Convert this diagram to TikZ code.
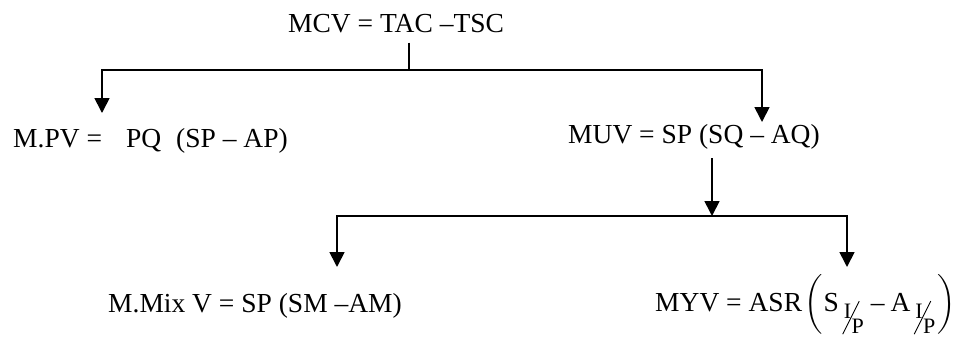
\documentclass[tikz,border=0pt]{standalone}
\usepackage{amsmath}
\usepackage{graphicx}
\usepackage{fontspec}
\setmainfont{Liberation Serif}
\usepackage{tikz}
\usetikzlibrary{arrows.meta, positioning, calc}

% slanted I/P used as subscript
\newcommand{\perIP}{\kern5pt\raisebox{-7pt}{\fontsize{22}{22}\selectfont I}\kern-9pt\raisebox{-23pt}{\rotatebox{-26.6}{\rule{0.9pt}{37pt}}}\kern-8pt\raisebox{-22.5pt}{\fontsize{22}{22}\selectfont P}}
\newcommand{\bigparen}[1]{$\left#1\vcenter to 58pt{}\right.$}

\begin{document}
\begin{tikzpicture}[
    x=1pt, y=-1pt,
    formula/.style={inner xsep=0pt, inner ysep=0pt, anchor=base west, font=\fontsize{27.5}{33}\selectfont},
    line/.style={draw, line width=1.4pt},
    arrow/.style={draw, line width=1.7pt, -{Triangle[width=15pt, length=15pt]}}
]
    \useasboundingbox (0,0) rectangle (958,338);

    % Nodes
    \node[formula] (mcv) at (288,32) {MCV = TAC –TSC};
    \node[formula] (mpv) at (13,147) {M.PV =\hspace{24pt}PQ\hspace{15pt}(SP – AP)};
    \node[formula] (muv) at (568,143) {MUV = SP (SQ – AQ)};
    \node[formula] (mmix) at (108,312) {M.Mix V = SP (SM –AM)};
    \node[formula] (myv) at (655,311) {MYV = ASR\kern2pt\bigparen(S\perIP\kern7pt–\kern6pt A\perIP\kern2pt\bigparen)};

    % Junctions and arrow ends
    \coordinate (jTop) at (409,70);
    \coordinate (jMid) at (712,216);
    \coordinate (tipPV) at (102,113);
    \coordinate (tipUV) at (762,122);
    \coordinate (tipMix) at (337,267);
    \coordinate (tipYV) at (847,267);

    % Connections
    \draw[line] ($(mcv.south -| jTop)+(0,10)$) -- (jTop);
    \draw[arrow] (jTop) -| (tipPV);
    \draw[arrow] (jTop) -| (tipUV);
    \draw[arrow] ($(muv.south -| jMid)+(0,9)$) -- (jMid);
    \draw[arrow] (jMid) -| (tipMix);
    \draw[arrow] (jMid) -| (tipYV);

\end{tikzpicture}
\end{document}
